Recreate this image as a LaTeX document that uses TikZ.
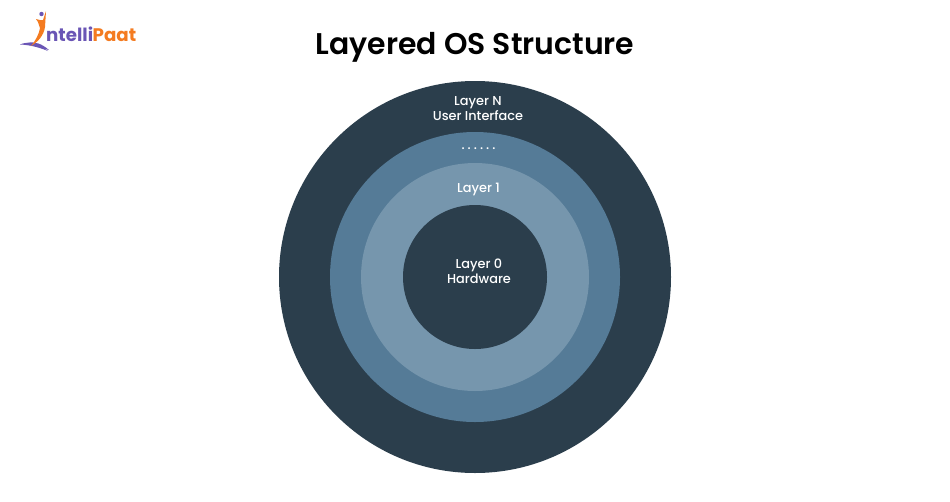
\documentclass[tikz,border=0pt]{standalone}
\usepackage{fontspec}
\setmainfont{Poppins}
\definecolor{darkc}{HTML}{2B3E4C}
\definecolor{midc}{HTML}{557B97}
\definecolor{lightc}{HTML}{7696AD}
\definecolor{logop}{HTML}{6A55B5}
\definecolor{logoo}{HTML}{F47B20}
\tikzset{
  ring/.style={circle,inner sep=0pt,minimum size=#1},
  lab/.style={text=white,font=\fontsize{12.9}{15}\selectfont\fontspec{Poppins Medium},align=center,inner sep=0pt},
  logotext/.style={font=\fontsize{18.2}{20}\selectfont\bfseries,inner sep=0pt,anchor=base west}
}
\begin{document}
\begin{tikzpicture}[x=1pt,y=-1pt]
\useasboundingbox (0,0) rectangle (950,501);
\fill[white] (0,0) rectangle (950,501);
\node[inner sep=0pt,font=\fontsize{29.9}{35}\selectfont\fontspec{Poppins SemiBold}] (title) at (475,47) {Layered OS Structure};
\node[ring=392pt,fill=darkc] (r3) at (475,277) {};
\node[ring=290pt,fill=midc] (r2) at (475,277) {};
\node[ring=228pt,fill=lightc] (r1) at (475,277) {};
\node[ring=144pt,fill=darkc] (r0) at (475,277) {};
\node[lab] (ln) at (478,109) {Layer N\\User Interface};
\node[lab] (dots) at (478.5,149) {.\,\kern0.9pt.\,\kern0.9pt.\,\kern0.9pt.\,\kern0.9pt.\,\kern0.9pt.};
\node[lab] (l1) at (478.5,189) {Layer 1};
\node[lab] (l0) at (479,271) {Layer 0\\Hardware};
% logo
\fill[logop] (20,44.5) .. controls (28,41) and (37,43) .. (48,51) .. controls (38,47) and (30,45) .. (20,44.5) -- cycle;
\fill[logop] (27,43) .. controls (35,41) and (42,44) .. (49,50) .. controls (40,48) and (33,45) .. (27,43) -- cycle;
\fill[logop] (41.5,14) circle (2.2pt);
\fill[logoo] (46,11) -- (45,27) .. controls (44,35) and (38,42) .. (31,46) .. controls (36,40) and (39,34) .. (40,28) -- (38,22) -- (36,19) -- (40,20) -- (43,20) -- cycle;
\node[logotext,text=logop] (logoa) at (46,41.5) {ntelli};
\node[logotext,text=logoo,anchor=base west] (logob) at (92.5,41.5) {Paat};
\end{tikzpicture}
\end{document}
